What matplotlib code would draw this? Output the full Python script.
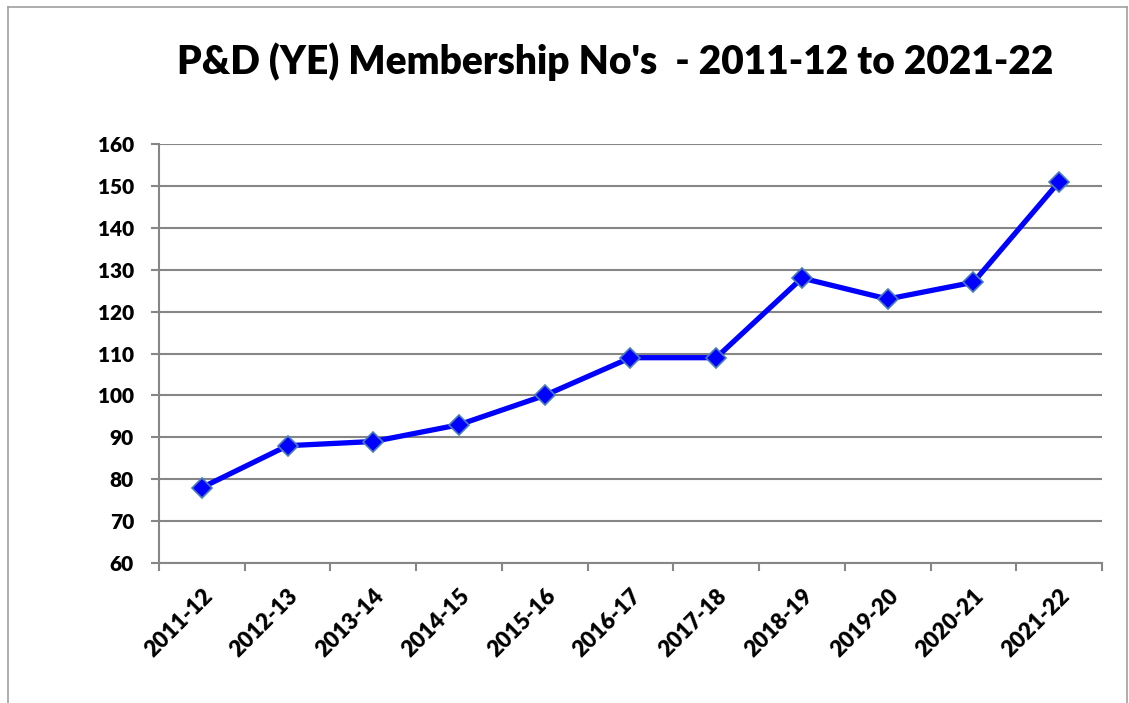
import matplotlib
matplotlib.use("Agg")
import matplotlib.pyplot as plt
from matplotlib.lines import Line2D
from matplotlib.transforms import ScaledTranslation
import numpy as np

categories = ["2011-12", "2012-13", "2013-14", "2014-15", "2015-16", "2016-17",
              "2017-18", "2018-19", "2019-20", "2020-21", "2021-22"]
members = [78, 88, 89, 93, 100, 109, 109, 128, 123, 127, 151]
title = "P&D (YE) Membership No's  - 2011-12 to 2021-22"

plt.rcParams['font.family'] = ['Lato', 'DejaVu Sans']
W = 'heavy'

fig = plt.figure(figsize=(11.29, 7.03), dpi=100)
ax = fig.add_axes([0.1408, 0.1991, 0.9761 - 0.1408, 0.7952 - 0.1991])

x = np.arange(len(categories))
ax.plot(x, members, color='#0000FF', lw=3.8, marker='D', markersize=10,
        markerfacecolor='#0000FF', markeredgecolor='#4A7EBB', markeredgewidth=1.2,
        zorder=3)

ax.set_xlim(-0.5, len(categories) - 0.5)
ax.set_ylim(60, 160)
ax.set_yticks(np.arange(60, 161, 10))
ax.grid(axis='y', color='#868686', lw=1.5)
ax.set_axisbelow(True)

ax.set_xticks(x)
ax.set_xticklabels(categories, rotation=45, ha='right', rotation_mode='anchor',
                   fontsize=16, fontweight=W)
off = ScaledTranslation(6 / 100, 0, fig.dpi_scale_trans)
for lab in ax.get_xticklabels():
    lab.set_transform(lab.get_transform() + off)
ax.set_xticks(np.arange(-0.5, len(categories), 1), minor=True)
ax.tick_params(axis='x', which='major', length=0, pad=16)
ax.tick_params(axis='x', which='minor', length=6, width=1.5, color='#868686')
ax.tick_params(axis='y', length=6, width=1.5, color='#868686', pad=12)
for lab in ax.get_yticklabels():
    lab.set_fontsize(15)
    lab.set_fontweight(W)

for s in ['top', 'right']:
    ax.spines[s].set_visible(False)
for s in ['left', 'bottom']:
    ax.spines[s].set_color('#868686')
    ax.spines[s].set_linewidth(1.5)

fig.text(0.545, 0.912, title, ha='center', va='center', fontsize=28, fontweight=W)

# outer chart border
bx0, bx1 = 8 / 1129, 1127 / 1129
by1 = 1 - 7 / 703
for xs, ys in [([bx0, bx0], [0, by1]), ([bx0, bx1], [by1, by1]), ([bx1, bx1], [by1, 0])]:
    fig.add_artist(Line2D(xs, ys, transform=fig.transFigure, color='#A0A0A0', lw=1.2))

fig.savefig('out.png', dpi=100)
